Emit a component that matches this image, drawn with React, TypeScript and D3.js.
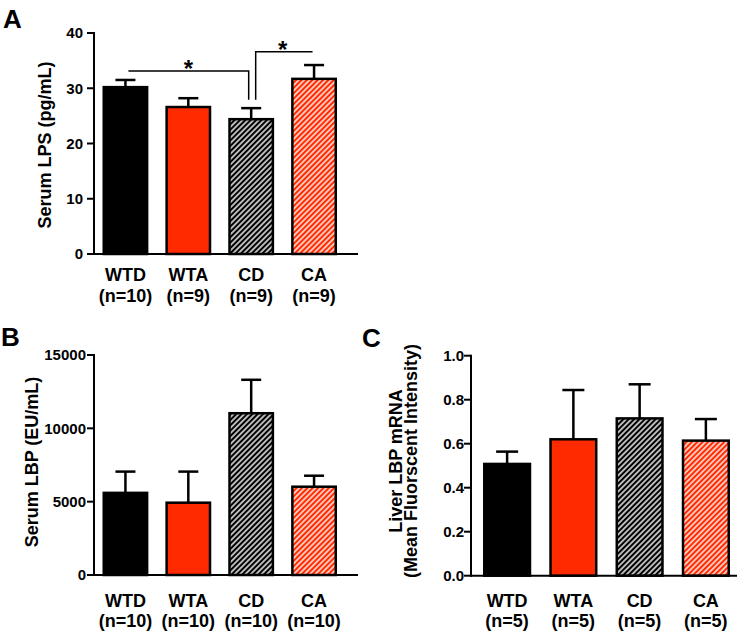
import React from "react";
import * as d3 from "d3";

const categories = ["WTD", "WTA", "CD", "CA"];
const fills = ["#000000", "#ff2a00", "#000000", "#ff2a00"];
const hatched = [false, false, true, true];

const nA = ["(n=10)", "(n=9)", "(n=9)", "(n=9)"];
const lpsMean = [30.2, 26.6, 24.4, 31.7];
const lpsSem = [1.3, 1.6, 2.0, 2.5];
const lpsTicks = [0, 10, 20, 30, 40];

const nB = ["(n=10)", "(n=10)", "(n=10)", "(n=10)"];
const lbpMean = [5600, 4930, 11030, 6020];
const lbpSem = [1450, 2120, 2280, 750];
const lbpTicks = [0, 5000, 10000, 15000];

const nC = ["(n=5)", "(n=5)", "(n=5)", "(n=5)"];
const mrnaMean = [0.508, 0.62, 0.715, 0.614];
const mrnaSem = [0.056, 0.224, 0.155, 0.098];
const mrnaTicks = [0, 0.2, 0.4, 0.6, 0.8, 1.0];

// significance brackets for panel A (values in pg/mL)
const sigFrom = ["WTD", "CD"];
const sigTo = ["CD", "CA"];
const sigLevel = [33.1, 36.6];
const sigDrop = [27.9, 27.9];

const FONT = "'Liberation Sans', Arial, Helvetica, sans-serif";

type PanelProps = {
  letter: string;
  letterX: number;
  letterY: number;
  axisX: number;
  xRange: [number, number];
  xEnd: number;
  yRange: [number, number];
  domainMax: number;
  ticks: number[];
  tickFmt: (v: number) => string;
  tickRight: number;
  means: number[];
  sems: number[];
  ns: string[];
  labelLines: string[];
  labelXs: number[];
  labelCY: number;
  catY1: number;
  catY2: number;
  capW: number;
  children?: (x: d3.ScaleBand<string>, y: d3.ScaleLinear<number, number>) => React.ReactNode;
};

function Panel(p: PanelProps) {
  const x = d3
    .scaleBand<string>()
    .domain(categories)
    .range(p.xRange)
    .paddingInner(0.31)
    .paddingOuter(0.155);
  const y = d3.scaleLinear().domain([0, p.domainMax]).range(p.yRange);
  const bw = x.bandwidth();
  return (
    <g>
      <text x={p.letterX} y={p.letterY} fontSize={26} fontWeight="bold" fontFamily={FONT}>
        {p.letter}
      </text>
      {categories.map((c, i) => {
        const x0 = x(c)!;
        const top = y(p.means[i]);
        const errTop = y(p.means[i] + p.sems[i]);
        const cx = x0 + bw / 2;
        return (
          <g key={c}>
            <line x1={cx} x2={cx} y1={top} y2={errTop} stroke="#000" strokeWidth={2.5} />
            <line x1={cx - p.capW / 2} x2={cx + p.capW / 2} y1={errTop} y2={errTop} stroke="#000" strokeWidth={2.5} />
            <rect
              x={x0}
              y={top}
              width={bw}
              height={y(0) - top}
              fill={hatched[i] ? `url(#hatch${i})` : fills[i]}
              stroke="#000"
              strokeWidth={2.5}
            />
          </g>
        );
      })}
      <line x1={p.axisX} x2={p.axisX} y1={y(p.domainMax) - 1} y2={y(0) + 1} stroke="#000" strokeWidth={2} />
      <line x1={p.axisX - 1} x2={p.xEnd} y1={y(0)} y2={y(0)} stroke="#000" strokeWidth={2} />
      {p.ticks.map((t) => (
        <g key={t}>
          <line x1={p.axisX - 7} x2={p.axisX} y1={y(t)} y2={y(t)} stroke="#000" strokeWidth={2} />
          <text
            x={p.tickRight}
            y={y(t)}
            dy="0.36em"
            textAnchor="end"
            fontSize={15}
            fontWeight="bold"
            fontFamily={FONT}
          >
            {p.tickFmt(t)}
          </text>
        </g>
      ))}
      {categories.map((c, i) => {
        const cx = x(c)! + bw / 2;
        return (
          <g key={"l" + c}>
            <text x={cx} y={p.catY1} textAnchor="middle" fontSize={18} fontWeight="bold" fontFamily={FONT}>
              {c}
            </text>
            <text x={cx} y={p.catY2} textAnchor="middle" fontSize={18} fontWeight="bold" fontFamily={FONT}>
              {p.ns[i]}
            </text>
          </g>
        );
      })}
      {p.labelLines.map((l, i) => (
        <text
          key={l}
          transform={`translate(${p.labelXs[i]},${p.labelCY}) rotate(-90)`}
          textAnchor="middle"
          fontSize={18}
          fontWeight="bold"
          fontFamily={FONT}
        >
          {l}
        </text>
      ))}
      {p.children ? p.children(x, y) : null}
    </g>
  );
}

export default function App() {
  const f0 = (v: number) => d3.format("d")(v);
  const f1 = (v: number) => d3.format(".1f")(v);
  return (
    <svg
      width={741}
      height={633}
      style={{ position: "absolute", left: 0, top: 0, display: "block", background: "#fff" }}
    >
      <defs>
        {categories.map((c, i) =>
          hatched[i] ? (
            <pattern
              key={c}
              id={`hatch${i}`}
              patternUnits="userSpaceOnUse"
              width={3.8}
              height={3.8}
              patternTransform="rotate(45)"
            >
              <rect x={0} y={0} width={3.8} height={3.8} fill={fills[i]} />
              <line x1={1.9} x2={1.9} y1={-1} y2={5} stroke="#ffffff" strokeWidth={1.4} />
            </pattern>
          ) : null
        )}
      </defs>
      <rect x={0} y={0} width={741} height={633} fill="#fff" />
      <Panel
        letter="A"
        letterX={3}
        letterY={28}
        axisX={94}
        xRange={[94, 345.5]}
        xEnd={358}
        yRange={[254, 33]}
        domainMax={40}
        ticks={lpsTicks}
        tickFmt={f0}
        tickRight={83}
        means={lpsMean}
        sems={lpsSem}
        ns={nA}
        labelLines={["Serum LPS (pg/mL)"]}
        labelXs={[51]}
        labelCY={145}
        catY1={281}
        catY2={302}
        capW={20}
      >
        {(x, y) => {
          const bw = x.bandwidth();
          const c = (k: string) => x(k)! + bw / 2;
          const b1x1 = c(sigFrom[0]) + 3;
          const b1x2 = c(sigTo[0]) - 2.5;
          const b2x1 = c(sigFrom[1]) + 4.5;
          const b2x2 = c(sigTo[1]) - 1.5;
          const l1 = y(sigLevel[0]);
          const l2 = y(sigLevel[1]);
          return (
            <g stroke="#000" strokeWidth={1.5} fill="none">
              <polyline points={`${b1x1},${l1} ${b1x2},${l1} ${b1x2},${y(sigDrop[0])}`} />
              <polyline points={`${b2x1},${y(sigDrop[1])} ${b2x1},${l2} ${b2x2},${l2}`} />
              <text
                x={(c(sigFrom[0]) + c(sigTo[0])) / 2}
                y={l1 + 6}
                textAnchor="middle"
                fontSize={24}
                fontWeight="bold"
                fontFamily={FONT}
                fill="#000"
                stroke="none"
              >
                *
              </text>
              <text
                x={(c(sigFrom[1]) + c(sigTo[1])) / 2}
                y={l2 + 6}
                textAnchor="middle"
                fontSize={24}
                fontWeight="bold"
                fontFamily={FONT}
                fill="#000"
                stroke="none"
              >
                *
              </text>
            </g>
          );
        }}
      </Panel>
      <Panel
        letter="B"
        letterX={1}
        letterY={346}
        axisX={94}
        xRange={[94, 345.5]}
        xEnd={358}
        yRange={[575, 355]}
        domainMax={15000}
        ticks={lbpTicks}
        tickFmt={f0}
        tickRight={86}
        means={lbpMean}
        sems={lbpSem}
        ns={nB}
        labelLines={["Serum LBP (EU/mL)"]}
        labelXs={[38]}
        labelCY={462}
        catY1={607}
        catY2={627}
        capW={20}
      />
      <Panel
        letter="C"
        letterX={362}
        letterY={347}
        axisX={471}
        xRange={[474, 739]}
        xEnd={737}
        yRange={[575.7, 355.7]}
        domainMax={1}
        ticks={mrnaTicks}
        tickFmt={f1}
        tickRight={464}
        means={mrnaMean}
        sems={mrnaSem}
        ns={nC}
        labelLines={["Liver LBP mRNA", "(Mean Fluorscent Intensity)"]}
        labelXs={[402, 417]}
        labelCY={461}
        catY1={607}
        catY2={627}
        capW={22}
      />
    </svg>
  );
}
